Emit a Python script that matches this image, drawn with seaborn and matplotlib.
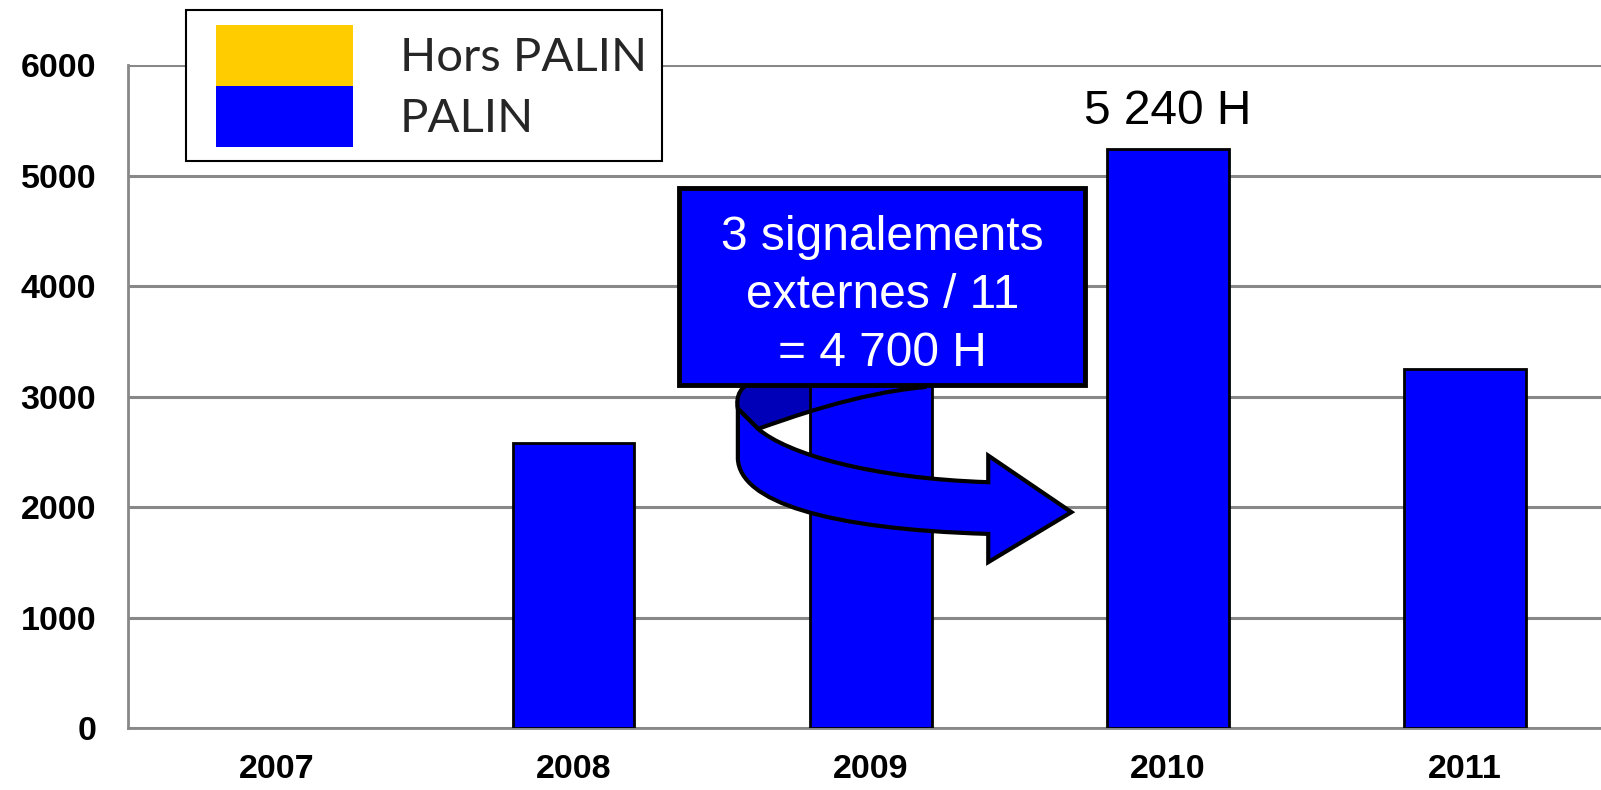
import numpy as np
import pandas as pd
import matplotlib
matplotlib.use("Agg")
import matplotlib.pyplot as plt
import seaborn as sns
from matplotlib.patches import Patch, Rectangle, PathPatch
from matplotlib.path import Path
from matplotlib.legend_handler import HandlerPatch

# data
years = ["2007", "2008", "2009", "2010", "2011"]
palin = [0, 2580, 3700, 5240, 3250]          # 2009 is hidden behind the callout
hors_palin = [0, 0, 0, 0, 0]
y_ticks = [0, 1000, 2000, 3000, 4000, 5000, 6000]
callout_lines = ["3 signalements", "externes / 11", "= 4 700 H"]
peak_label = "5 240 H"

BLUE = "#0000FF"
DARK_BLUE = "#0000B8"
YELLOW = "#FFCC00"
GRID = "#888888"

sns.set_style("white")
plt.rcParams["font.family"] = ["Liberation Sans", "DejaVu Sans"]

fig = plt.figure(figsize=(16.01, 7.90), dpi=100)
ax = fig.add_axes([0.0800, 0.0785, 0.9276, 0.8390])

df = pd.DataFrame({"year": years, "PALIN": palin, "Hors PALIN": hors_palin})
sns.barplot(data=df, x="year", y="PALIN", color=BLUE, saturation=1, width=0.41,
            edgecolor="black", linewidth=2, ax=ax, zorder=3)
ax.bar(np.arange(len(years)), df["Hors PALIN"], bottom=df["PALIN"], width=0.41,
       color=YELLOW, linewidth=0, zorder=3)
# empty bars leave no outline
for p in ax.patches:
    if p.get_height() == 0:
        p.set_linewidth(0)

ax.set_xlim(-0.5, len(years) - 0.5)
ax.set_ylim(0, 6000)
ax.set_xlabel("")
ax.set_ylabel("")

# axes styling
ax.set_yticks(y_ticks, labels=[str(v) for v in y_ticks], fontweight="bold", fontsize=24.5)
ax.set_xticks(range(len(years)), labels=years, fontweight="bold", fontsize=24.5)
ax.set_xticks(np.arange(-0.5, len(years), 1.0), minor=True)
ax.tick_params(axis="y", length=8, width=2, color=GRID, pad=15, labelcolor="black")
ax.tick_params(axis="x", which="major", length=0, pad=19, labelcolor="black")
ax.tick_params(axis="x", which="minor", length=8, width=2, color=GRID)
ax.yaxis.grid(True, color=GRID, linewidth=2.2)
ax.set_axisbelow(True)
for side in ["top", "right"]:
    ax.spines[side].set_visible(False)
for side in ["left", "bottom"]:
    ax.spines[side].set_color(GRID)
    ax.spines[side].set_linewidth(2)

# curved arrow from the callout to the 2010 bar
A = (1.553, 2890)
H = (1.621, 2708)
back_verts = [A, (1.545, 3000), (1.56, 3110), (1.62, 3150),
              (2.182, 3150), (2.182, 3086),
              (1.95, 3030), (1.72, 2800), H, A]
back_codes = [Path.MOVETO, Path.CURVE4, Path.CURVE4, Path.CURVE4,
              Path.LINETO, Path.LINETO,
              Path.CURVE4, Path.CURVE4, Path.CURVE4, Path.CLOSEPOLY]
back_path = Path(back_verts, back_codes)
ax.add_patch(PathPatch(back_path, facecolor=DARK_BLUE, edgecolor="none", zorder=2))
ax.add_patch(PathPatch(back_path, facecolor="none", edgecolor="black", lw=3, zorder=3.5))

front_verts = [A, (1.553, 2437),
               (1.56, 2050), (1.85, 1800), (2.396, 1757),
               (2.396, 1501), (2.676, 1954), (2.396, 2466), (2.396, 2225),
               (2.0, 2260), (1.72, 2480), H, A]
front_codes = [Path.MOVETO, Path.LINETO,
               Path.CURVE4, Path.CURVE4, Path.CURVE4,
               Path.LINETO, Path.LINETO, Path.LINETO, Path.LINETO,
               Path.CURVE4, Path.CURVE4, Path.CURVE4, Path.CLOSEPOLY]
ax.add_patch(PathPatch(Path(front_verts, front_codes), facecolor=BLUE,
                       edgecolor="black", lw=3, joinstyle="miter", zorder=4))

# callout box
ax.add_patch(Rectangle((1.355, 3107), 1.367, 1784, facecolor=BLUE,
                       edgecolor="black", lw=3.5, zorder=5))
ax.text(2.04, 3913, "\n".join(callout_lines), color="white", fontsize=34.5,
        ha="center", va="center", linespacing=1.37, zorder=6)

# value above the 2010 bar
ax.annotate(peak_label, xy=(3, palin[3]), xytext=(0, 11), textcoords="offset points",
            ha="center", va="bottom", fontsize=34.5, color="black")


# legend swatches sit a little in from the frame
def inset_swatch(legend, orig_handle, xdescent, ydescent, width, height, fontsize):
    off = 11
    return Rectangle((-xdescent + off, -ydescent), width - off, height)


handles = [Patch(facecolor=YELLOW, linewidth=0, label="Hors PALIN"),
           Patch(facecolor=BLUE, linewidth=0, label="PALIN")]
leg = fig.legend(handles=handles, loc="upper left", bbox_to_anchor=(186 / 1601, 1 - 10 / 790),
                 frameon=True, fancybox=False, edgecolor="black", framealpha=1,
                 prop={"family": "Lato", "size": 34}, handlelength=3.22, handleheight=1.61,
                 labelspacing=0, handletextpad=1.0, borderpad=0.31, borderaxespad=0,
                 handler_map={Patch: HandlerPatch(patch_func=inset_swatch)})
leg.get_frame().set_linewidth(1.5)

fig.savefig("out.png", dpi=100)
